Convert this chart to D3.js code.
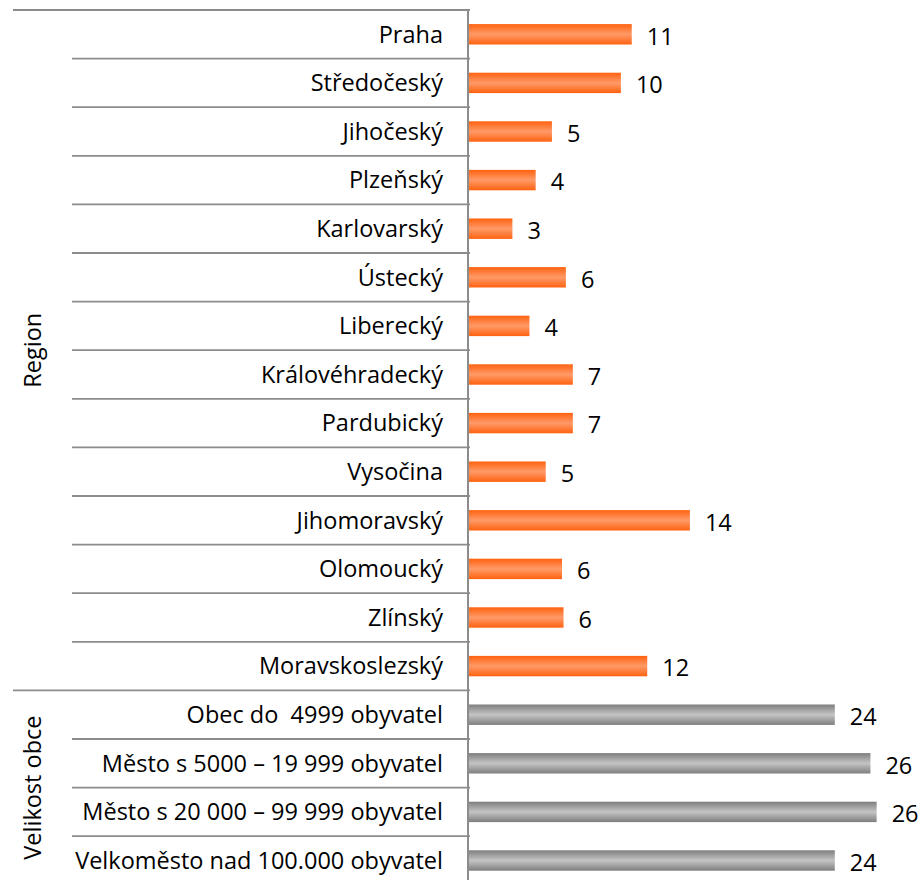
<!DOCTYPE html>
<html><head><meta charset="utf-8">
<script src="https://cdn.jsdelivr.net/npm/d3@7"></script>
<style>
html,body{margin:0;padding:0;background:#fff;}
svg{display:block;}
text{font-family:"Open Sans",Lato,sans-serif;fill:#000;white-space:pre;}
</style></head>
<body>
<svg id="chart" width="920" height="880"></svg>
<script>
const regionCategories = ["Praha","Středočeský","Jihočeský","Plzeňský","Karlovarský","Ústecký","Liberecký","Královéhradecký","Pardubický","Vysočina","Jihomoravský","Olomoucký","Zlínský","Moravskoslezský"];
const regionValues = [10.5, 9.8, 5.35, 4.3, 2.8, 6.25, 3.9, 6.7, 6.7, 4.95, 14.25, 6.0, 6.1, 11.5];
const sizeCategories = ["Obec do  4999 obyvatel","Město s 5000 – 19 999 obyvatel","Město s 20 000 – 99 999 obyvatel","Velkoměsto nad 100.000 obyvatel"];
const sizeValues = [23.6, 25.9, 26.3, 23.6];
const groupNames = ["Region","Velikost obce"];

const rows = [];
regionCategories.forEach((c,i)=>rows.push({cat:c, value:regionValues[i], group:0, key:"r"+i}));
sizeCategories.forEach((c,i)=>rows.push({cat:c, value:sizeValues[i], group:1, key:"s"+i}));

const svg = d3.select("#chart");
const axisX = 468;
const plotTop = 10, rowH = 48.6;
const y = d3.scaleBand().domain(rows.map(d=>d.key)).range([plotTop, plotTop + rowH*rows.length]).paddingInner(0.58).paddingOuter(0.29);
const yRow = d3.scaleBand().domain(rows.map(d=>d.key)).range([plotTop, plotTop + rowH*rows.length]);
const x = d3.scaleLinear().domain([0, 30]).range([axisX + 1, axisX + 1 + 465]);

const defs = svg.append("defs");
function grad(id, edge, mid){
  const g = defs.append("linearGradient").attr("id", id).attr("x1",0).attr("y1",0).attr("x2",0).attr("y2",1);
  g.append("stop").attr("offset","0%").attr("stop-color",edge);
  g.append("stop").attr("offset","50%").attr("stop-color",mid);
  g.append("stop").attr("offset","100%").attr("stop-color",edge);
}
grad("gOrange","#ff6210","#ff9a68");
grad("gGray","#7e7e7e","#c4c4c4");

const lineColor = "#8c8c8c";
const bounds = d3.range(rows.length + 1).map(i => plotTop + i*rowH);
const groupStarts = new Set([0, regionCategories.length, rows.length]);
svg.append("g").selectAll("line").data(bounds).join("line")
  .attr("x1",(d,i)=> groupStarts.has(i) ? 13 : 72)
  .attr("x2", axisX + 2)
  .attr("y1", d=>d).attr("y2", d=>d)
  .attr("stroke", lineColor).attr("stroke-width", 1.8);
svg.append("line").attr("x1",axisX).attr("x2",axisX).attr("y1",plotTop).attr("y2",plotTop+rowH*rows.length)
  .attr("stroke",lineColor).attr("stroke-width",2);

svg.append("g").selectAll("rect").data(rows).join("rect")
  .attr("x", x(0))
  .attr("y", d=>y(d.key))
  .attr("width", d=>x(d.value)-x(0))
  .attr("height", y.bandwidth())
  .attr("fill", d=> d.group===0 ? "url(#gOrange)" : "url(#gGray)");

svg.append("g").selectAll("text").data(rows).join("text")
  .attr("x", 443)
  .attr("y", d=>yRow(d.key) + yRow.bandwidth()/2)
  .attr("dy","0.35em")
  .attr("text-anchor","end")
  .style("font-size","23.5px")
  .text(d=>d.cat);

svg.append("g").selectAll("text").data(rows).join("text")
  .attr("x", d=>x(d.value) + 15)
  .attr("y", d=>yRow(d.key) + yRow.bandwidth()/2 + 2)
  .attr("dy","0.35em")
  .style("font-size","23.5px")
  .text(d=>Math.round(d.value));

const groupRanges = [[0, regionCategories.length],[regionCategories.length, rows.length]];
svg.append("g").selectAll("text").data(groupNames).join("text")
  .attr("transform",(d,i)=>{
    const cy = (bounds[groupRanges[i][0]] + bounds[groupRanges[i][1]])/2;
    return `translate(41,${cy}) rotate(-90)`;
  })
  .attr("text-anchor","middle")
  .style("font-size","23.5px")
  .text(d=>d);
</script>
</body></html>
